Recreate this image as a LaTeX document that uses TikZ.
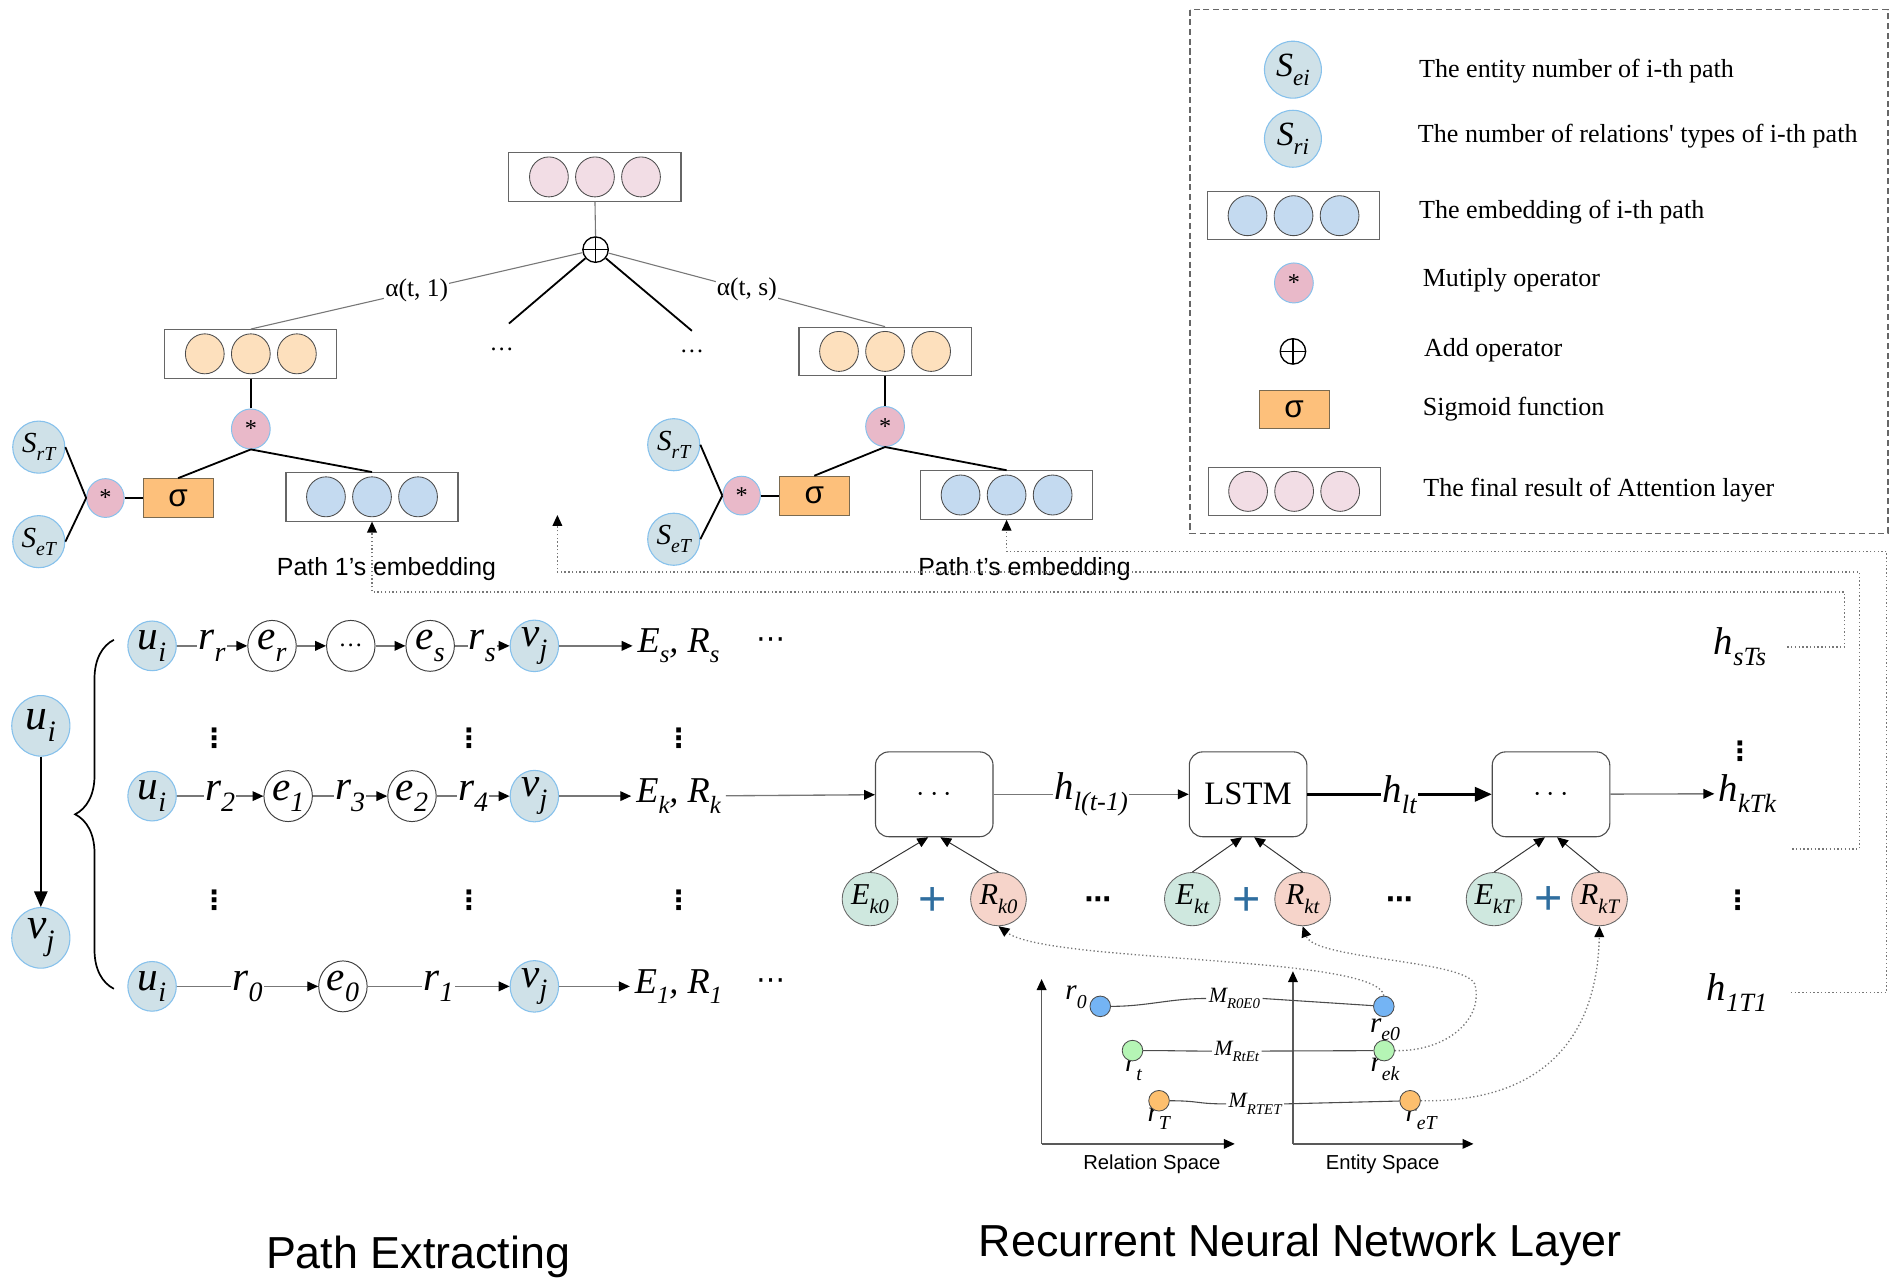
\documentclass[tikz,border=0pt]{standalone}
\usepackage{fontspec}
\setmainfont{Liberation Serif}
\setsansfont{Liberation Sans}
\newfontfamily\dejavu{DejaVu Sans}
\usetikzlibrary{arrows.meta,shapes.geometric,decorations.pathreplacing}
\definecolor{entf}{HTML}{CFE1E8}
\definecolor{entb}{HTML}{86C1EC}
\definecolor{mulf}{HTML}{E9B9C9}
\definecolor{sigf}{HTML}{FDC07B}
\definecolor{sigb}{HTML}{7A6A50}
\definecolor{bball}{HTML}{C4DAF0}
\definecolor{oball}{HTML}{FDE0BD}
\definecolor{pball}{HTML}{F2DDE5}
\definecolor{ef}{HTML}{CFE8DF}
\definecolor{rf}{HTML}{F6D4CA}
\definecolor{plusc}{HTML}{2F6E9F}
\definecolor{pbl}{HTML}{74B4F4}
\definecolor{pgr}{HTML}{B5F5B5}
\definecolor{por}{HTML}{FDBF6E}
\definecolor{lg}{HTML}{777777}
\newcommand{\fs}[1]{\fontsize{#1}{#1}\selectfont}
\newcommand{\sbs}[2]{#1\raisebox{-0.28em}{\scalebox{0.68}{#2}}}
\newcommand{\vecbox}[4]{%
  \node[vbox] (#1) at (#2,#3) {};
  \node[ball,fill=#4] (#1a) at (#2-38,#3) {};
  \node[ball,fill=#4] (#1b) at (#2,#3) {};
  \node[ball,fill=#4] (#1c) at (#2+38,#3) {};}
\begin{document}
\begin{tikzpicture}[x=1pt,y=-1pt,
  ent/.style={ellipse,draw=entb,fill=entf,line width=0.9pt,minimum width=40pt,minimum height=41pt,inner sep=0pt,font=\fs{34}\itshape},
  plainc/.style={ellipse,draw=black!75,fill=white,line width=0.8pt,minimum width=40pt,minimum height=42pt,inner sep=0pt,font=\fs{34}\itshape},
  ball/.style={ellipse,draw=black!70,line width=0.7pt,minimum width=32pt,minimum height=33pt,inner sep=0pt},
  vbox/.style={draw=black!60,line width=0.9pt,minimum width=142pt,minimum height=40pt,inner sep=0pt},
  mulop/.style={ellipse,draw=entb,fill=mulf,line width=0.8pt,minimum width=32pt,minimum height=33pt,inner sep=0pt,font=\fs{20}},
  sigbox/.style={draw=sigb,fill=sigf,line width=0.8pt,minimum width=58pt,minimum height=32pt,inner sep=0pt,font=\sffamily\fs{26}},
  snode/.style={ellipse,draw=entb,fill=entf,line width=0.9pt,minimum width=43pt,minimum height=43pt,inner sep=0pt,font=\fs{24}\itshape},
  oplusn/.style={circle,draw,line width=1.1pt,minimum size=21pt,inner sep=0pt,path picture={\draw[line width=1.1pt] (path picture bounding box.north) -- (path picture bounding box.south) (path picture bounding box.west) -- (path picture bounding box.east);}},
  gline/.style={draw=lg,line width=1.1pt},
  bline/.style={draw=black,line width=1.5pt},
  tipa/.style={-{Triangle[length=9pt,width=8pt,color=black]}},
  dl/.style={draw=lg,line width=1.1pt,dotted},
  lbl/.style={fill=white,inner sep=1pt},
  lt/.style={anchor=west,inner sep=0pt,font=\fs{21.5}},
  rnn/.style={draw=black!70,line width=0.9pt,rounded corners=11pt,minimum width=97pt,minimum height=70pt,inner sep=0pt},
  enode/.style={ellipse,draw=black!60,fill=ef,line width=0.7pt,minimum width=46pt,minimum height=44pt,inner sep=0pt,font=\fs{25}\itshape},
  rnode/.style={enode,fill=rf},
  plusn/.style={font=\sffamily\fs{40},text=plusc,inner sep=0pt},
  dotp/.style={circle,draw=black!70,line width=0.7pt,minimum size=17pt,inner sep=0pt},
  hlab/.style={font=\fs{32}\itshape},
  vd/.style={font=\dejavu\bfseries\fs{22},inner sep=0pt},
  hd/.style={font=\dejavu\fs{24},inner sep=0pt},
  axl/.style={draw=black!65,line width=1pt}
]
\path[use as bounding box] (0,0) rectangle (1568,1061);

% ---------------- legend
\draw[draw=black!60,line width=1pt,dash pattern=on 5pt off 3pt] (982,8) rectangle (1558,440);
\node[snode,minimum width=47pt,minimum height=47pt,font=\fs{28}\itshape] (lse) at (1067,57.5) {\sbs{S}{ei}};
\node[lt] (lt1) at (1171,58.4) {The entity number of i-th path};
\node[snode,minimum width=47pt,minimum height=47pt,font=\fs{28}\itshape] (lsr) at (1067,114.5) {\sbs{S}{ri}};
\node[lt] (lt2) at (1170,112.5) {The number of relations\textquotesingle{} types of i-th path};
\vecbox{lemb}{1067.5}{178}{bball}
\node[lt] (lt3) at (1171,175) {The embedding of i-th path};
\node[mulop] (lmul) at (1067.8,233.5) {*};
\node[lt] (lt4) at (1174,231) {Mutiply operator};
\node[oplusn] (lplus) at (1067,290) {};
\node[lt] (lt5) at (1175,289) {Add operator};
\node[sigbox] (lsig) at (1068,338) {σ};
\node[lt] (lt6) at (1174,337.4) {Sigmoid function};
\vecbox{lfin}{1068}{405.5}{pball}
\node[lt] (lt7) at (1174.5,404.3) {The final result of Attention layer};

% ---------------- attention tree
\vecbox{top}{491}{146}{pball}
\node[oplusn] (plus) at (491.5,206) {};
\draw[gline,line width=0.9pt] (top.south) -- (plus.north);
\vecbox{ob1}{207}{292}{oball}
\vecbox{obt}{730.4}{290}{oball}
\draw[gline,line width=0.9pt] (plus) -- node[lbl,font=\fs{21}] (al1) {α(t, 1)} (ob1.north);
\draw[gline,line width=0.9pt] (plus) -- node[lbl,font=\fs{21}] (als) {α(t, s)} (obt.north);
\coordinate (d1) at (420,267);
\coordinate (d2) at (571,273);
\draw[bline] (plus) -- (d1);
\draw[bline] (plus) -- (d2);
\node[font=\fs{20},inner sep=0pt] (dd1) at (414,288) {\ldots};
\node[font=\fs{20},inner sep=0pt] (dd2) at (571,290) {\ldots};

% left group
\node[mulop] (m1) at (207,354) {*};
\draw[bline] (ob1.south) -- (m1.north);
\node[sigbox] (s1) at (147,411) {σ};
\vecbox{b1}{307}{410}{bball}
\draw[bline] (m1.south) -- (s1.north);
\draw[bline] (m1.south) -- (b1.north);
\node[mulop,minimum width=31pt,minimum height=32pt] (m0) at (87,411) {*};
\draw[bline] (m0) -- (s1);
\node[snode] (sr1) at (32,369) {\sbs{S}{rT}};
\node[snode] (se1) at (32,447) {\sbs{S}{eT}};
\draw[bline] (sr1.east) -- (m0.west);
\draw[bline] (se1.east) -- (m0.west);

% right group
\node[mulop] (m2) at (730.4,352) {*};
\draw[bline] (obt.south) -- (m2.north);
\node[sigbox] (s2) at (672,409) {σ};
\vecbox{bt}{830.7}{408.5}{bball}
\draw[bline] (m2.south) -- (s2.north);
\draw[bline] (m2.south) -- (bt.north);
\node[mulop,minimum width=31pt,minimum height=32pt] (m3) at (612,409) {*};
\draw[bline] (m3) -- (s2);
\node[snode] (sr2) at (556,367) {\sbs{S}{rT}};
\node[snode] (se2) at (556,445) {\sbs{S}{eT}};
\draw[bline] (sr2.east) -- (m3.west);
\draw[bline] (se2.east) -- (m3.west);

\node[font=\sffamily\fs{20.5}] (p1lab) at (319,470) {Path 1’s embedding};
\node[font=\sffamily\fs{20.5}] (ptlab) at (845.5,470) {Path t’s embedding};
\coordinate (midarr) at (460,425);

% ---------------- h outputs
\node[hlab] (hs) at (1436,534) {\sbs{h}{sTs}};
\node[hlab] (hk) at (1442,655) {\sbs{h}{kTk}};
\node[hlab] (h1) at (1433.5,819) {\sbs{h}{1T1}};
\node[vd] (hv1) at (1436,620) {⋮};
\node[vd] (hv2) at (1434,743) {⋮};

\coordinate (c1) at (1557,455);
\draw[dl,tipa] ([xshift=16pt]h1.east) -| (c1) -| (bt.south);
\coordinate (hk0) at (1479,700.5);
\coordinate (c2) at (1534.5,472);
\draw[dl,tipa] (hk0) -| (c2) -| (midarr);
\coordinate (c3) at (1522,488.5);
\draw[dl,tipa] ([xshift=14pt]hs.east) -| (c3) -| (b1.south);

% ---------------- path extracting
\node[ent,minimum width=48pt,minimum height=50pt,font=\fs{36}\itshape] (ul) at (33.7,599) {\sbs{u}{i}};
\node[ent,minimum width=48pt,minimum height=50pt,font=\fs{36}\itshape] (vl) at (33.7,774) {\sbs{v}{j}};
\draw[black,line width=1.5pt,-{Triangle[length=13pt,width=11pt]}] (ul) -- (vl);
\draw[black,line width=1.4pt,decorate,decoration={brace,amplitude=32pt}] (94,816) -- (94,528);

% row 1
\node[ent] (u1) at (125.5,533) {\sbs{u}{i}};
\node[plainc] (er) at (224.5,533) {\sbs{e}{r}};
\node[plainc,font=\fs{20}] (ed) at (289.5,533) {\ldots};
\node[plainc] (es) at (355,533) {\sbs{e}{s}};
\node[ent] (v1) at (441,533) {\sbs{v}{j}};
\node[font=\fs{30}\itshape,inner sep=4pt] (ER1) at (560,533) {\sbs{E}{s}, \sbs{R}{s}};
\node[hd] (el1) at (636,531) {⋯};
\draw[gline,tipa] (u1) -- node[lbl,font=\fs{34}\itshape] (lrr) {\sbs{r}{r}} (er);
\draw[gline,tipa] (er) -- (ed);
\draw[gline,tipa] (ed) -- (es);
\draw[gline,tipa] (es) -- node[lbl,font=\fs{34}\itshape] (lrs) {\sbs{r}{s}} (v1);
\draw[gline,tipa] (v1) -- (ER1);

% row 2
\node[ent] (u2) at (125.5,657) {\sbs{u}{i}};
\node[plainc] (e1) at (237.8,657) {\sbs{e}{1}};
\node[plainc] (e2) at (340,657) {\sbs{e}{2}};
\node[ent] (v2) at (441,657) {\sbs{v}{j}};
\node[font=\fs{30}\itshape,inner sep=4pt] (ER2) at (560,657) {\sbs{E}{k}, \sbs{R}{k}};
\draw[gline,tipa] (u2) -- node[lbl,font=\fs{34}\itshape] (lr2) {\sbs{r}{2}} (e1);
\draw[gline,tipa] (e1) -- node[lbl,font=\fs{34}\itshape] (lr3) {\sbs{r}{3}} (e2);
\draw[gline,tipa] (e2) -- node[lbl,font=\fs{34}\itshape] (lr4) {\sbs{r}{4}} (v2);
\draw[gline,tipa] (v2) -- (ER2);

% row 3
\node[ent] (u3) at (125.5,814) {\sbs{u}{i}};
\node[plainc] (e0) at (283,814) {\sbs{e}{0}};
\node[ent] (v3) at (441,814) {\sbs{v}{j}};
\node[font=\fs{30}\itshape,inner sep=4pt] (ER3) at (560,814) {\sbs{E}{1}, \sbs{R}{1}};
\node[hd] (el3) at (636,812) {⋯};
\draw[gline,tipa] (u3) -- node[lbl,font=\fs{34}\itshape] (lr0) {\sbs{r}{0}} (e0);
\draw[gline,tipa] (e0) -- node[lbl,font=\fs{34}\itshape] (lr1) {\sbs{r}{1}} (v3);
\draw[gline,tipa] (v3) -- (ER3);

\node[vd] (rv1) at (176.8,609) {⋮};
\node[vd] (rv2) at (387,609) {⋮};
\node[vd] (rv3) at (560,609) {⋮};
\node[vd] (rv4) at (176.8,743) {⋮};
\node[vd] (rv5) at (387,743) {⋮};
\node[vd] (rv6) at (560,743) {⋮};

% ---------------- RNN
\node[rnn,font=\fs{24}] (bA) at (771,655.5) {$\cdots$};
\node[rnn,font=\fs{27}] (bL) at (1030,655.5) {LSTM};
\node[rnn,font=\fs{24}] (bC) at (1280,655.5) {$\cdots$};
\draw[gline,tipa] (ER2) -- (bA);
\draw[gline,tipa] (bA) -- node[lbl,font=\fs{32}\itshape] (hl1) {\sbs{h}{l(t-1)}} (bL);
\draw[black,line width=2pt,-{Triangle[length=14pt,width=12pt]}] (bL) -- node[lbl,font=\fs{32}\itshape] (hlt) {\sbs{h}{lt}} (bC);
\draw[gline,tipa] (bC) -- (hk);

\node[enode] (E0) at (718,742) {\sbs{E}{k0}};
\node[rnode] (R0) at (824,742) {\sbs{R}{k0}};
\node[enode] (Et) at (984,742) {\sbs{E}{kt}};
\node[rnode] (Rt) at (1075,742) {\sbs{R}{kt}};
\node[enode] (ET) at (1233,742) {\sbs{E}{kT}};
\node[rnode] (RT) at (1320,742) {\sbs{R}{kT}};
\node[plusn] (pl0) at (770,744) {+};
\node[plusn] (pl1) at (1029,744) {+};
\node[plusn] (pl2) at (1278,743) {+};
\node[font=\dejavu\bfseries\fs{22},inner sep=0pt] (dt1) at (906,745) {⋯};
\node[font=\dejavu\bfseries\fs{22},inner sep=0pt] (dt2) at (1155,745) {⋯};
\foreach \e/\r/\b in {E0/R0/bA,Et/Rt/bL,ET/RT/bC}{
  \draw[draw=black!80,line width=0.8pt,tipa] (\e.north) -- ([xshift=-5pt]\b.south);
  \draw[draw=black!80,line width=0.8pt,tipa] (\r.north) -- ([xshift=5pt]\b.south);
}

% ---------------- spaces
\coordinate (ro) at (859.6,944);
\coordinate (ry) at (859.6,808);
\coordinate (rx) at (1019,944);
\coordinate (eo) at (1067,944);
\coordinate (ey) at (1067,801.5);
\coordinate (ex) at (1216,944);
\draw[axl,tipa] (ro) -- (ry);
\draw[axl,tipa] (ro) -- (rx);
\draw[axl,tipa] (eo) -- (ey);
\draw[axl,tipa] (eo) -- (ex);
\node[font=\sffamily\fs{16.7}] (rsl) at (950.6,961) {Relation Space};
\node[font=\sffamily\fs{16.7}] (esl) at (1141,961) {Entity Space};

\node[font=\fs{24}\itshape,inner sep=0pt] (lp0) at (888,823) {\sbs{r}{0}};
\node[font=\fs{24}\itshape,inner sep=0pt] (lpe0) at (1143,849.6) {\sbs{r}{e0}};
\node[font=\fs{24}\itshape,inner sep=0pt] (lpt) at (935.4,882.4) {\sbs{r}{t}};
\node[font=\fs{24}\itshape,inner sep=0pt] (lpek) at (1143,882.4) {\sbs{r}{ek}};
\node[font=\fs{24}\itshape,inner sep=0pt] (lpT) at (956.3,923.4) {\sbs{r}{T}};
\node[font=\fs{24}\itshape,inner sep=0pt] (lpeT) at (1172.8,923.4) {\sbs{r}{eT}};
\node[dotp,fill=pbl] (p0) at (908,830.5) {};
\node[dotp,fill=pbl] (pe0) at (1142,830.5) {};
\node[dotp,fill=pgr] (pt1) at (934.6,867) {};
\node[dotp,fill=pgr] (pek) at (1142.3,867) {};
\node[dotp,fill=por] (pT) at (956.5,908.4) {};
\node[dotp,fill=por] (peT) at (1163.7,908.4) {};
\node[font=\fs{18}\itshape,inner sep=2pt] (M0) at (1018.7,824) {\sbs{M}{R0E0}};
\node[font=\fs{18}\itshape,inner sep=2pt] (M1) at (1020.6,867.4) {\sbs{M}{RtEt}};
\node[font=\fs{18}\itshape,inner sep=2pt] (M2) at (1035.8,911) {\sbs{M}{RTET}};
\draw[draw=black!70,line width=0.9pt] (p0.east) .. controls +(30,0) and +(-30,0) .. (M0.west);
\draw[draw=black!70,line width=0.9pt] (M0.east) -- (pe0);
\draw[draw=black!70,line width=0.9pt] (pt1.east) .. controls +(30,0) and +(-30,0) .. (M1.west);
\draw[draw=black!70,line width=0.9pt] (M1.east) -- (pek);
\draw[draw=black!70,line width=0.9pt] (pT.east) .. controls +(25,0) and +(-25,0) .. (M2.west);
\draw[draw=black!70,line width=0.9pt] (M2.east) -- (peT);

\draw[dl,tipa] (pe0.north) .. controls (1137,788) and (865,795) .. (R0.south);
\draw[dl,tipa] (pek.east) .. controls (1195,868) and (1225,840) .. (1217,812) .. controls (1208,792) and (1085,792) .. (Rt.south);
\draw[dl,tipa] (peT.east) .. controls (1270,910) and (1318,860) .. (RT.south);

% ---------------- titles
\node[font=\sffamily\fs{37}] (t1) at (345,1037) {Path Extracting};
\node[font=\sffamily\fs{37}] (t2) at (1073,1027) {Recurrent Neural Network Layer};
\end{tikzpicture}
\end{document}
